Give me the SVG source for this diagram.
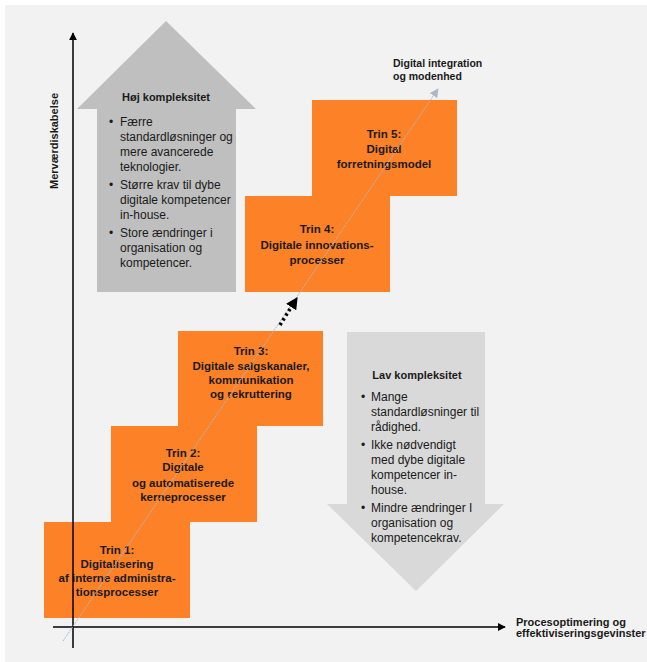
<svg xmlns="http://www.w3.org/2000/svg" width="647" height="662" viewBox="0 0 647 662">
<defs>
<style>
.bg{fill:#f2f2f2}
.box{fill:#fd8126}
.t{font-family:"Liberation Sans",Arial,sans-serif;fill:#1a1a1a}
.b{font-weight:bold}
.bt{font-size:11.5px;font-weight:bold;text-anchor:middle}
.body{font-size:12px}
.lab{font-size:11px;font-weight:bold}
.axis{stroke:#000;stroke-width:1.5;fill:none}
</style>
<marker id="ah" viewBox="0 0 10 10" refX="9" refY="5" markerWidth="8" markerHeight="8" markerUnits="userSpaceOnUse" orient="auto"><path d="M0,0 L10,5 L0,10 Z" fill="#000"/></marker>
<marker id="ahd" viewBox="0 0 10 10" refX="9" refY="5" markerWidth="12" markerHeight="12" markerUnits="userSpaceOnUse" orient="auto"><path d="M0,0 L10,5 L0,10 Z" fill="#000"/></marker>
<marker id="ahg" viewBox="0 0 10 10" refX="9" refY="5" markerWidth="9" markerHeight="9" markerUnits="userSpaceOnUse" orient="auto"><path d="M0,0 L10,5 L0,10 Z" fill="#a9b9c9"/></marker>
</defs>
<rect class="bg" x="5" y="5" width="642" height="657"/>

<g id="high-complexity">
<polygon points="166,21 256,109 236,109 236,292 97,292 97,109 77,109" fill="#bfbfbf"/>
<text class="t lab" x="166" y="101" text-anchor="middle" style="font-size:11px">Høj kompleksitet</text>
<g class="t body">
<text x="109" y="126">•</text><text x="120" y="126">Færre</text>
<text x="120" y="141">standardløsninger og</text>
<text x="120" y="156">mere avancerede</text>
<text x="120" y="171">teknologier.</text>
<text x="109" y="189">•</text><text x="120" y="189">Større krav til dybe</text>
<text x="120" y="204">digitale kompetencer</text>
<text x="120" y="219">in-house.</text>
<text x="109" y="237">•</text><text x="120" y="237">Store ændringer i</text>
<text x="120" y="252">organisation og</text>
<text x="120" y="267">kompetencer.</text>
</g>
</g>

<g id="low-complexity">
<polygon points="347,332 485,332 485,504 504,504 416,591 327,504 347,504" fill="#d9d9d9"/>
<text class="t lab" x="417" y="379" text-anchor="middle">Lav kompleksitet</text>
<g class="t body">
<text x="361" y="401">•</text><text x="371" y="401">Mange</text>
<text x="371" y="416">standardløsninger til</text>
<text x="371" y="431">rådighed.</text>
<text x="361" y="449">•</text><text x="371" y="449">Ikke nødvendigt</text>
<text x="371" y="464">med dybe digitale</text>
<text x="371" y="479">kompetencer in-</text>
<text x="371" y="494">house.</text>
<text x="361" y="512">•</text><text x="371" y="512">Mindre ændringer I</text>
<text x="371" y="527">organisation og</text>
<text x="371" y="542">kompetencekrav.</text>
</g>
</g>

<g id="trin1">
<rect class="box" x="44" y="522" width="146" height="96"/>
<g class="t bt">
<text x="117" y="554">Trin 1:</text>
<text x="117" y="568">Digitalisering</text>
<text x="117" y="582">af interne administra-</text>
<text x="117" y="596">tionsprocesser</text>
</g>
</g>
<g id="trin2">
<rect class="box" x="111" y="426" width="146" height="96"/>
<g class="t bt">
<text x="183" y="457">Trin 2:</text>
<text x="183" y="471">Digitale</text>
<text x="183" y="487">og automatiserede</text>
<text x="183" y="501">kerneprocesser</text>
</g>
</g>
<g id="trin3">
<rect class="box" x="178" y="331" width="145" height="95"/>
<g class="t bt">
<text x="251" y="355">Trin 3:</text>
<text x="251" y="370">Digitale salgskanaler,</text>
<text x="251" y="384">kommunikation</text>
<text x="251" y="398">og rekruttering</text>
</g>
</g>
<g id="trin4">
<rect class="box" x="245" y="196" width="145" height="96"/>
<g class="t bt">
<text x="317" y="233">Trin 4:</text>
<text x="317" y="249">Digitale innovations-</text>
<text x="317" y="264">processer</text>
</g>
</g>
<g id="trin5">
<rect class="box" x="312" y="100" width="145" height="96"/>
<g class="t bt">
<text x="384" y="138">Trin 5:</text>
<text x="384" y="153">Digital</text>
<text x="384" y="168">forretningsmodel</text>
</g>
</g>

<g id="connectors">
<line x1="73" y1="648" x2="73" y2="33" class="axis" marker-end="url(#ah)"/>
<line x1="53" y1="627" x2="505" y2="627" class="axis" marker-end="url(#ah)"/>
<line x1="63" y1="641" x2="438" y2="89" stroke="#a9b9c9" stroke-width="1" stroke-dasharray="2,1" marker-end="url(#ahg)"/>
<line x1="280" y1="325" x2="290" y2="309" stroke="#000" stroke-width="3.5" stroke-dasharray="2.5,3"/>
<line x1="288" y1="312" x2="297" y2="298" stroke="#000" stroke-width="0.1" marker-end="url(#ahd)"/>
</g>

<g id="labels" class="t lab">
<text x="393" y="67" style="font-size:10.5px">Digital integration</text>
<text x="393" y="80" style="font-size:10.5px">og modenhed</text>
<text transform="translate(58,141) rotate(-90)" text-anchor="middle">Merværdiskabelse</text>
<text x="516" y="626">Procesoptimering og</text>
<text x="516" y="637">effektiviseringsgevinster</text>
</g>
</svg>
